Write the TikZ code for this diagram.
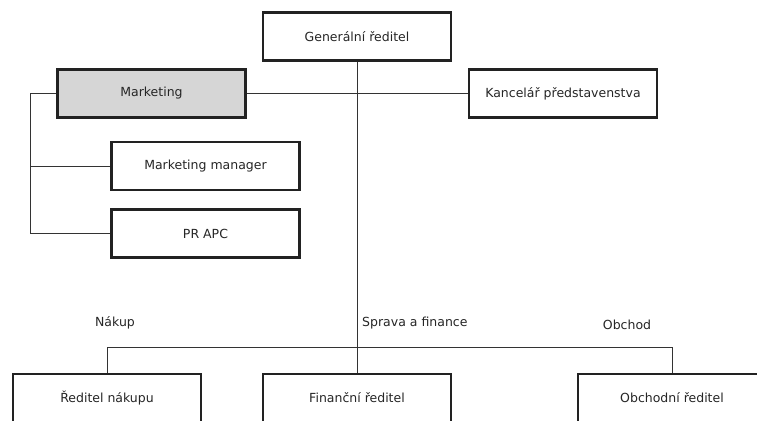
\documentclass[tikz,border=0pt]{standalone}
\usepackage{fontspec}
\setmainfont{DejaVu Sans}
\definecolor{boxline}{HTML}{222222}
\definecolor{conline}{HTML}{333333}
\definecolor{mktfill}{HTML}{D6D6D6}
\begin{document}
\begin{tikzpicture}[x=1pt,y=-1pt,
  box/.style={draw=boxline,line width=2.2pt,minimum width=188pt,minimum height=48pt,inner sep=0pt,font=\fontsize{12.5}{14}\selectfont,text=black!85},
  con/.style={draw=conline,line width=0.9pt},
  lbl/.style={font=\fontsize{12.5}{14}\selectfont,text=black!85,inner sep=0pt}]
\useasboundingbox (0,0) rectangle (757,420);
\clip (0,0) rectangle (757,420);
\fill[white] (0,0) rectangle (757,420);
\node[box] (gen) at (357,36.5) {Generální ředitel};
\node[box,fill=mktfill] (mkt) at (151.5,93.5) {Marketing};
\node[box] (kanc) at (563,93.5) {Kancelář představenstva};
\node[box] (mm) at (205.5,166) {Marketing manager};
\node[box] (pr) at (205.5,233.5) {PR APC};
\node[box] (nak) at (107,398) {Ředitel nákupu};
\node[box] (fin) at (357,398) {Finanční ředitel};
\node[box] (obch) at (672,398) {Obchodní ředitel};
\node[lbl] (lnak) at (115,323) {Nákup};
\node[lbl,anchor=west] (lspr) at (362,323) {Sprava a finance};
\node[lbl] (lobch) at (627,325) {Obchod};
\coordinate (lb) at (30,93.5);
\coordinate (bar) at (357,347);
\draw[con] (gen.south) -- (fin.north);
\draw[con] (mkt.east) -- (kanc.west);
\draw[con] (mkt.west) -- (lb) |- (pr.west);
\draw[con] (mm.west) -- (mm.west -| lb);
\draw[con] (nak.north) -- (nak.north |- bar) -- (obch.north |- bar) -- (obch.north);
\end{tikzpicture}
\end{document}
